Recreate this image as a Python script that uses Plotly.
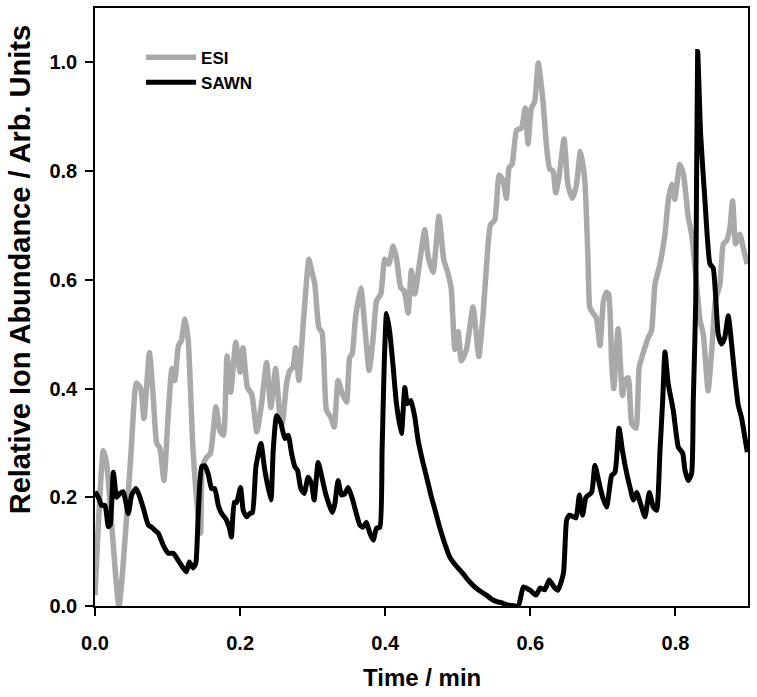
import plotly.graph_objects as go

# ESI trace (gray)
esi_t = [0.000, 0.0115, 0.016, 0.033, 0.044, 0.050, 0.057, 0.063, 0.0675, 0.075,
         0.080, 0.085, 0.0895, 0.095, 0.101, 0.106, 0.110, 0.115, 0.119, 0.124,
         0.1285, 0.135, 0.142, 0.1455, 0.148, 0.154, 0.159, 0.1667, 0.172, 0.177,
         0.182, 0.187, 0.194, 0.200, 0.204, 0.210, 0.216, 0.223, 0.2296, 0.2365,
         0.2424, 0.249, 0.255, 0.258, 0.264, 0.2686, 0.273, 0.2765, 0.281, 0.287,
         0.2948, 0.2985, 0.303, 0.3085, 0.313, 0.319, 0.325, 0.3297, 0.335, 0.3407,
         0.3467, 0.351, 0.3545, 0.359, 0.3664, 0.372, 0.3778, 0.3834, 0.388, 0.394,
         0.3994, 0.405, 0.411, 0.4155, 0.4215, 0.426, 0.4316, 0.436, 0.4408, 0.4477,
         0.4545, 0.459, 0.466, 0.474, 0.4807, 0.4867, 0.491, 0.4959, 0.5004, 0.505,
         0.512, 0.521, 0.529, 0.535, 0.5395, 0.545, 0.551, 0.557, 0.5624, 0.567,
         0.5707, 0.575, 0.581, 0.5877, 0.593, 0.5968, 0.6014, 0.606, 0.611, 0.6175,
         0.622, 0.6267, 0.6313, 0.635, 0.6396, 0.6465, 0.652, 0.658, 0.6634, 0.669,
         0.675, 0.6795, 0.682, 0.6868, 0.691, 0.696, 0.7007, 0.705, 0.708, 0.712,
         0.715, 0.721, 0.727, 0.7305, 0.735, 0.7397, 0.7456, 0.750, 0.7557, 0.7626,
         0.767, 0.7718, 0.7787, 0.7856, 0.790, 0.7948, 0.799, 0.806, 0.811, 0.8178,
         0.8223, 0.827, 0.834, 0.8384, 0.845, 0.850, 0.855, 0.8613, 0.866, 0.8705,
         0.875, 0.8788, 0.883, 0.8888, 0.8934, 0.899]
esi_y = [0.02, 0.286, 0.262, 0.0, 0.17, 0.29, 0.41, 0.40, 0.345, 0.466,
         0.39, 0.30, 0.29, 0.231, 0.354, 0.437, 0.415, 0.479, 0.488, 0.528,
         0.488, 0.29, 0.17, 0.134, 0.256, 0.274, 0.28, 0.366, 0.323, 0.314,
         0.46, 0.393, 0.485, 0.43, 0.475, 0.402, 0.39, 0.32, 0.372, 0.448,
         0.365, 0.437, 0.347, 0.336, 0.409, 0.433, 0.439, 0.475, 0.415, 0.519,
         0.638, 0.617, 0.592, 0.512, 0.503, 0.36, 0.347, 0.329, 0.415, 0.391,
         0.375, 0.457, 0.464, 0.53, 0.585, 0.512, 0.433, 0.494, 0.561, 0.574,
         0.638, 0.629, 0.662, 0.64, 0.585, 0.58, 0.539, 0.617, 0.574, 0.635,
         0.692, 0.644, 0.614, 0.717, 0.637, 0.611, 0.584, 0.472, 0.505, 0.451,
         0.472, 0.55, 0.459, 0.538, 0.624, 0.701, 0.71, 0.793, 0.783, 0.75,
         0.806, 0.813, 0.875, 0.879, 0.916, 0.85, 0.916, 0.928, 0.999, 0.928,
         0.85, 0.804, 0.80, 0.76, 0.79, 0.859, 0.773, 0.75, 0.773, 0.836,
         0.784, 0.637, 0.549, 0.538, 0.53, 0.479, 0.56, 0.577, 0.574, 0.451,
         0.40, 0.51, 0.387, 0.415, 0.42, 0.336, 0.327, 0.439, 0.466, 0.494,
         0.506, 0.592, 0.629, 0.684, 0.745, 0.776, 0.748, 0.812, 0.794, 0.714,
         0.684, 0.622, 0.525, 0.50, 0.396, 0.47, 0.561, 0.592, 0.666, 0.672,
         0.695, 0.745, 0.666, 0.684, 0.659, 0.629]

# SAWN trace (black)
sawn_t = [0.000, 0.0046, 0.0092, 0.0138, 0.0184, 0.021, 0.0253, 0.0299, 0.0344, 0.039,
          0.0459, 0.0505, 0.0565, 0.062, 0.0666, 0.0735, 0.078, 0.0826, 0.0872, 0.094,
          0.101, 0.108, 0.1147, 0.1216, 0.126, 0.130, 0.1354, 0.139, 0.1423, 0.147,
          0.1515, 0.156, 0.1607, 0.165, 0.170, 0.1745, 0.180, 0.185, 0.188, 0.192,
          0.195, 0.2006, 0.2043, 0.209, 0.2135, 0.217, 0.2218, 0.2287, 0.234, 0.2424,
          0.2456, 0.2503, 0.256, 0.2617, 0.2663, 0.271, 0.2755, 0.279, 0.2837, 0.2883,
          0.2938, 0.2985, 0.302, 0.3076, 0.3122, 0.3178, 0.3223, 0.327, 0.3306, 0.335,
          0.3398, 0.344, 0.349, 0.3545, 0.359, 0.365, 0.3696, 0.374, 0.3788, 0.3834,
          0.388, 0.3926, 0.3957, 0.3985, 0.4018, 0.4063, 0.411, 0.4155, 0.4223, 0.427,
          0.4306, 0.4353, 0.4408, 0.4453, 0.452, 0.4565, 0.4637, 0.468, 0.475, 0.482,
          0.489, 0.497, 0.507, 0.514, 0.521, 0.530, 0.5395, 0.546, 0.5537, 0.560,
          0.5675, 0.575, 0.5835, 0.5904, 0.5996, 0.608, 0.6134, 0.620, 0.626, 0.6327,
          0.638, 0.6456, 0.650, 0.6538, 0.6593, 0.663, 0.6676, 0.672, 0.6767, 0.6845,
          0.689, 0.695, 0.6997, 0.7052, 0.712, 0.7167, 0.7222, 0.7273, 0.7328, 0.7374,
          0.742, 0.7465, 0.752, 0.758, 0.764, 0.7695, 0.774, 0.7787, 0.7824, 0.7856,
          0.790, 0.797, 0.804, 0.810, 0.8131, 0.8177, 0.8223, 0.8246, 0.828, 0.8306,
          0.8347, 0.8407, 0.8476, 0.852, 0.859, 0.8636, 0.868, 0.8728, 0.8774, 0.882,
          0.8866, 0.891, 0.8957, 0.899]
sawn_y = [0.21, 0.20, 0.185, 0.185, 0.146, 0.15, 0.246, 0.20, 0.207, 0.21,
          0.17, 0.204, 0.216, 0.20, 0.18, 0.149, 0.145, 0.139, 0.134, 0.112,
          0.097, 0.097, 0.084, 0.07, 0.063, 0.081, 0.07, 0.079, 0.17, 0.256,
          0.258, 0.243, 0.216, 0.216, 0.185, 0.17, 0.161, 0.145, 0.127, 0.191,
          0.19, 0.218, 0.176, 0.164, 0.17, 0.172, 0.256, 0.299, 0.25, 0.195,
          0.286, 0.35, 0.337, 0.308, 0.314, 0.28, 0.256, 0.25, 0.216, 0.207,
          0.237, 0.225, 0.195, 0.264, 0.24, 0.207, 0.188, 0.172, 0.188, 0.231,
          0.204, 0.206, 0.218, 0.198, 0.176, 0.149, 0.145, 0.154, 0.134, 0.121,
          0.143, 0.145, 0.286, 0.439, 0.538, 0.503, 0.439, 0.372, 0.317, 0.402,
          0.372, 0.378, 0.347, 0.305, 0.264, 0.24, 0.2, 0.18, 0.145, 0.115,
          0.09, 0.075, 0.06, 0.048, 0.038, 0.028, 0.02, 0.013, 0.008, 0.006,
          0.002, 0.001, 0.0, 0.035, 0.029, 0.02, 0.033, 0.03, 0.048, 0.035,
          0.029, 0.06, 0.158, 0.167, 0.164, 0.162, 0.204, 0.167, 0.2, 0.209,
          0.259, 0.225, 0.2, 0.182, 0.24, 0.246, 0.327, 0.283, 0.244, 0.218,
          0.195, 0.209, 0.188, 0.164, 0.209, 0.182, 0.176, 0.286, 0.378, 0.467,
          0.409, 0.36, 0.292, 0.281, 0.25, 0.231, 0.244, 0.378, 0.561, 1.02,
          0.868, 0.745, 0.629, 0.622, 0.50, 0.482, 0.494, 0.534, 0.482, 0.42,
          0.369, 0.347, 0.31, 0.283]

x_ticks = [0.0, 0.2, 0.4, 0.6, 0.8]
y_ticks = [0.0, 0.2, 0.4, 0.6, 0.8, 1.0]

FONT = "Arial, Liberation Sans, sans-serif"

fig = go.Figure()
fig.add_trace(go.Scatter(
    x=esi_t, y=esi_y, mode="lines", name="ESI",
    line=dict(color="#a9a9a9", width=5.5, shape="spline", smoothing=0.5),
))
fig.add_trace(go.Scatter(
    x=sawn_t, y=sawn_y, mode="lines", name="SAWN",
    line=dict(color="black", width=5, shape="spline", smoothing=0.5),
))

axis_common = dict(
    showline=True, linecolor="black", linewidth=1.5, mirror=True,
    ticks="outside", ticklen=8, tickwidth=1.5, tickcolor="black",
    showgrid=False, zeroline=False,
    tickfont=dict(family=FONT, size=20, color="black", weight="bold"),
)

fig.update_xaxes(range=[0, 0.9], tickvals=x_ticks,
                 ticktext=[f"{v:.1f}" for v in x_ticks],
                 ticklabelstandoff=10, **axis_common)
fig.update_yaxes(range=[0, 1.1], tickvals=y_ticks,
                 ticktext=[f"{v:.1f}" for v in y_ticks],
                 ticklabelstandoff=4, **axis_common)

fig.add_annotation(
    text="Relative Ion Abundance / Arb. Units", textangle=-90,
    xref="paper", yref="paper", x=-0.1149, y=0.563,
    xanchor="center", yanchor="middle", showarrow=False,
    font=dict(family=FONT, size=29, color="black", weight="bold"),
)
fig.add_annotation(
    text="Time / min",
    xref="paper", yref="paper", x=0.5008, y=-0.12,
    xanchor="center", yanchor="middle", showarrow=False,
    font=dict(family=FONT, size=24, color="black", weight="bold"),
)

fig.update_layout(
    width=757, height=697,
    margin=dict(l=95, r=9, t=6, b=91),
    plot_bgcolor="white", paper_bgcolor="white",
    legend=dict(
        x=0.0705, y=0.947, xanchor="left", yanchor="top",
        bgcolor="rgba(0,0,0,0)", itemwidth=50,
        font=dict(family=FONT, size=17, color="black", weight="bold"),
    ),
)

fig.write_html("out.html", config={"displayModeBar": False},
               post_script="document.body.style.margin='0';")
